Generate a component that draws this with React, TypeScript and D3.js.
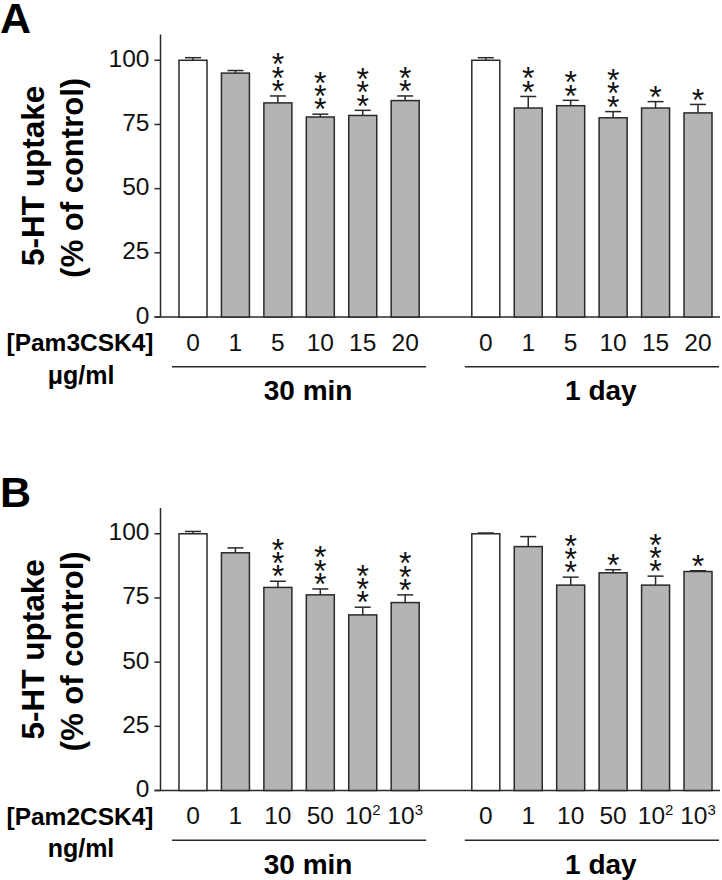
import React from "react";
import * as d3 from "d3";

// ---------- data ----------
const panelLetters = ["A", "B"];
const agents = ["[Pam3CSK4]", "[Pam2CSK4]"];
const units = ["μg/ml", "ng/ml"];
const timeGroups = ["30 min", "1 day"];
const doseLabelsA = ["0", "1", "5", "10", "15", "20"];
const doseLabelsB = ["0", "1", "10", "50", "10^2", "10^3"];
const yTicks = [0, 25, 50, 75, 100];

// Panel A (Pam3CSK4)
const meanA30 = [100, 95, 83.4, 77.9, 78.5, 84.3];
const semA30 = [1, 1, 2.7, 1.1, 2, 1.8];
const starsA30 = [0, 0, 3, 3, 3, 2];
const meanA1d = [100, 81.4, 82.3, 77.6, 81.4, 79.5];
const semA1d = [1, 4.5, 2.1, 2.4, 2.5, 3.3];
const starsA1d = [0, 2, 2, 3, 1, 1];

// Panel B (Pam2CSK4)
const meanB30 = [100, 92.6, 79.1, 76.2, 68.4, 73.2];
const semB30 = [0.9, 1.9, 2.4, 2.3, 3.0, 3.0];
const starsB30 = [0, 0, 3, 3, 3, 3];
const meanB1d = [100, 95.0, 80.0, 84.8, 80.0, 85.3];
const semB1d = [0.3, 3.9, 3.1, 1.2, 3.5, 0.3];
const starsB1d = [0, 0, 3, 1, 3, 1];

// ---------- layout ----------
const W = 722;
const H = 880;
const FONT = "'Liberation Sans', Arial, Helvetica, sans-serif";
const panelOffset = [0, 473.5];
const groupStart = [0, 6.9];
const barW = 28;
const barFill = "#b4b4b4";
const ink = "#2a2a2a";
const starSize = 32;
const starStep = 13.4;

const x = d3.scaleLinear().domain([0, 11.9]).range([193, 698]);
const y = d3.scaleLinear().domain([0, 110]).range([317, 34.6]);

type Group = { means: number[]; sems: number[]; stars: number[] };

const panelsData: { groups: Group[]; doses: string[] }[] = [
  {
    doses: doseLabelsA,
    groups: [
      { means: meanA30, sems: semA30, stars: starsA30 },
      { means: meanA1d, sems: semA1d, stars: starsA1d },
    ],
  },
  {
    doses: doseLabelsB,
    groups: [
      { means: meanB30, sems: semB30, stars: starsB30 },
      { means: meanB1d, sems: semB1d, stars: starsB1d },
    ],
  },
];

function DoseLabel({ label, cx, cy }: { label: string; cx: number; cy: number }) {
  if (label.includes("^")) {
    const [base, exp] = label.split("^");
    return (
      <text x={cx} y={cy} textAnchor="middle" fontSize={24.5} fontFamily={FONT} fill="#111">
        {base}
        <tspan fontSize={15} dy={-9.5}>
          {exp}
        </tspan>
      </text>
    );
  }
  return (
    <text x={cx} y={cy} textAnchor="middle" fontSize={24.5} fontFamily={FONT} fill="#111">
      {label}
    </text>
  );
}

function Stars({ n, cx, errTop }: { n: number; cx: number; errTop: number }) {
  if (n === 0) return null;
  const lowestBaseline = errTop - 8.5 + starSize * 0.46;
  return (
    <text x={cx} y={lowestBaseline} textAnchor="middle" fontSize={starSize} fontFamily={FONT} fill="#111">
      {d3.range(n).map((k) => (
        <tspan key={k} x={cx} dy={k === 0 ? 0 : -starStep}>
          *
        </tspan>
      ))}
    </text>
  );
}

function Panel({ idx }: { idx: number }) {
  const pd = panelsData[idx];
  const [y0] = y.range();
  const yTop = y(110);
  return (
    <g transform={`translate(0,${panelOffset[idx]})`}>
      {/* panel letter */}
      <text x={0} y={33} fontSize={43} fontWeight="bold" fontFamily={FONT} fill="#000">
        {panelLetters[idx]}
      </text>

      {/* y axis label */}
      <text
        transform={`translate(44,${(y0 + yTop) / 2}) rotate(-90)`}
        textAnchor="middle"
        fontSize={31.5}
        fontWeight="bold"
        fontFamily={FONT}
        fill="#000"
      >
        5-HT uptake
      </text>
      <text
        transform={`translate(82.5,${(y0 + yTop) / 2 + 2}) rotate(-90)`}
        textAnchor="middle"
        fontSize={31}
        fontWeight="bold"
        fontFamily={FONT}
        fill="#000"
      >
        (% of control)
      </text>

      {/* y axis */}
      <line x1={160.5} x2={160.5} y1={yTop} y2={y0} stroke={ink} strokeWidth={1.5} />
      {yTicks.map((t) => (
        <g key={t}>
          <line x1={154.5} x2={160.5} y1={y(t)} y2={y(t)} stroke={ink} strokeWidth={1.5} />
          <text
            x={149.5}
            y={y(t) + 6.5}
            textAnchor="end"
            fontSize={24.5}
            fontFamily={FONT}
            fill="#111"
          >
            {t}
          </text>
        </g>
      ))}
      {/* x axis */}
      <line x1={154.5} x2={720} y1={y0} y2={y0} stroke={ink} strokeWidth={1.5} />

      {pd.groups.map((g, gi) => {
        const s0 = groupStart[gi];
        const first = x(s0);
        const last = x(s0 + g.means.length - 1);
        return (
          <g key={gi}>
            {g.means.map((m, i) => {
              const cx = x(s0 + i);
              const top = y(m);
              const errTop = y(m + g.sems[i]);
              return (
                <g key={i}>
                  <line x1={cx} x2={cx} y1={top} y2={errTop} stroke={ink} strokeWidth={1.5} />
                  <line
                    x1={cx - 8}
                    x2={cx + 8}
                    y1={errTop}
                    y2={errTop}
                    stroke={ink}
                    strokeWidth={1.5}
                  />
                  <rect
                    x={cx - barW / 2}
                    y={top}
                    width={barW}
                    height={y0 - top}
                    fill={i === 0 ? "#ffffff" : barFill}
                    stroke={ink}
                    strokeWidth={1.5}
                  />
                  <Stars n={g.stars[i]} cx={cx} errTop={errTop} />
                  <DoseLabel label={pd.doses[i]} cx={cx} cy={y0 + 33.5} />
                </g>
              );
            })}
            <line
              x1={first - 21}
              x2={Math.min(last + 21, 720)}
              y1={y0 + 49.7}
              y2={y0 + 49.7}
              stroke={ink}
              strokeWidth={1.5}
            />
            <text
              x={(first + last) / 2 + 9}
              y={y0 + 83}
              textAnchor="middle"
              fontSize={28}
              fontWeight="bold"
              fontFamily={FONT}
              fill="#000"
            >
              {timeGroups[gi]}
            </text>
          </g>
        );
      })}

      {/* agent and unit labels */}
      <text
        x={80}
        y={y0 + 34}
        textAnchor="middle"
        fontSize={24.5}
        fontWeight="bold"
        fontFamily={FONT}
        fill="#000"
      >
        {agents[idx]}
      </text>
      <text
        x={81}
        y={y0 + 66.5}
        textAnchor="middle"
        fontSize={25}
        fontWeight="bold"
        fontFamily={FONT}
        fill="#000"
      >
        {units[idx]}
      </text>
    </g>
  );
}

export default function App() {
  return (
    <svg
      width={W}
      height={H}
      viewBox={`0 0 ${W} ${H}`}
      style={{ position: "absolute", left: 0, top: 0, background: "#fff" }}
    >
      <rect width={W} height={H} fill="#fff" />
      <Panel idx={0} />
      <Panel idx={1} />
    </svg>
  );
}
